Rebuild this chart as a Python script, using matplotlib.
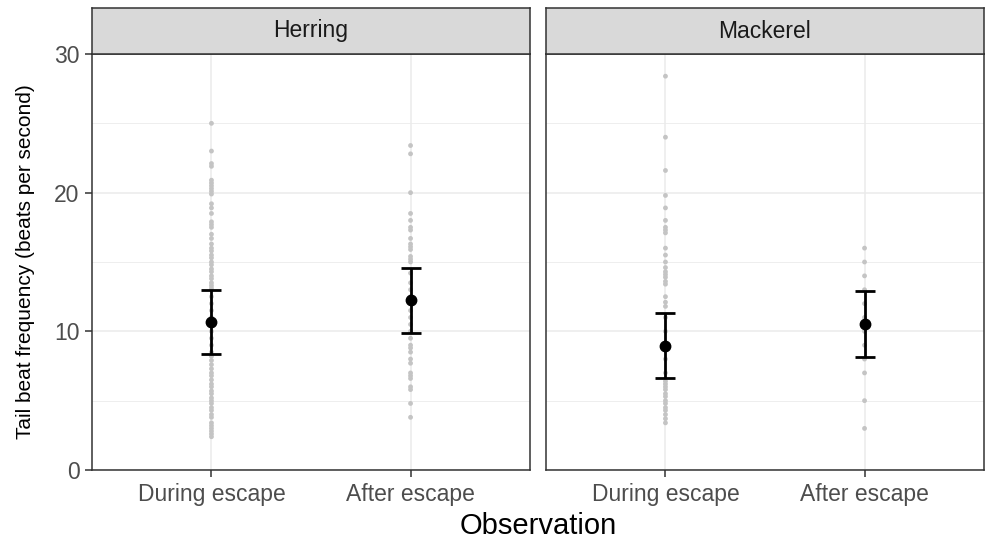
import matplotlib.pyplot as plt

plt.rcParams['font.family'] = ['Liberation Sans', 'DejaVu Sans']

# Categories
species = ["Herring", "Mackerel"]
observations = ["During escape", "After escape"]

# Individual tail beat frequencies
herring_during = [25.0, 23.0, 22.1, 21.9, 20.9, 20.7, 20.5, 20.3, 20.1, 19.9, 19.2, 18.9,
                  18.5, 17.9, 17.7, 17.5, 17.0, 16.7, 16.3, 16.0, 15.8, 15.5, 15.3, 15.0,
                  14.8, 14.5, 14.3, 14.0, 13.8, 13.5, 13.3, 13.1, 12.5, 12.0, 11.5, 11.0,
                  10.5, 10.0, 9.5, 9.0, 8.5, 8.2, 7.9, 7.6, 7.3, 7.0, 6.8, 6.5, 6.2, 6.0,
                  5.7, 5.5, 5.2, 5.0, 4.8, 4.5, 4.3, 4.0, 3.8, 3.4, 3.2, 3.0, 2.8, 2.6, 2.4]
herring_after = [23.4, 22.8, 20.0, 18.5, 18.0, 17.5, 17.3, 16.7, 16.3, 16.1, 15.9, 15.4,
                 15.2, 15.0, 14.2, 13.5, 13.0, 12.5, 12.0, 11.5, 11.0, 10.5, 10.0, 9.5,
                 9.0, 8.8, 8.5, 8.0, 7.7, 7.0, 6.8, 6.6, 6.0, 5.8, 4.8, 3.8]
mackerel_during = [28.4, 24.0, 21.6, 19.8, 18.9, 18.0, 17.5, 17.3, 17.1, 16.0, 15.5, 15.0,
                   14.6, 14.3, 14.1, 13.9, 13.6, 13.4, 12.5, 12.1, 11.8, 11.0, 10.0, 9.0,
                   8.0, 7.0, 6.4, 6.2, 6.0, 5.8, 5.5, 5.3, 5.0, 4.8, 4.5, 4.3, 4.0, 3.7, 3.4]
mackerel_after = [16, 15, 14, 13, 12, 11, 10, 9, 8, 7, 5, 3]

# Means and error bar bounds
means = {"Herring": [10.7, 12.25], "Mackerel": [8.97, 10.5]}
lower = {"Herring": [8.38, 9.9], "Mackerel": [6.62, 8.15]}
upper = {"Herring": [13.0, 14.6], "Mackerel": [11.35, 12.9]}

raw = {"Herring": [herring_during, herring_after],
       "Mackerel": [mackerel_during, mackerel_after]}

W, H = 987, 542
fig = plt.figure(figsize=(W / 100, H / 100), dpi=100)

panel_x = [92, 546]
panel_w = 438
top, bottom = 54, 470
strip_top = 8

for i, sp in enumerate(species):
    ax = fig.add_axes([panel_x[i] / W, 1 - bottom / H, panel_w / W, (bottom - top) / H])
    ax.set_xlim(0.4, 2.6)
    ax.set_ylim(0, 30)

    ax.set_yticks([0, 10, 20, 30])
    ax.set_yticks([5, 15, 25], minor=True)
    ax.set_xticks([1, 2])
    ax.set_xticklabels(observations)
    ax.grid(True, which="major", color="#EBEBEB", lw=1.1)
    ax.grid(True, which="minor", axis="y", color="#EBEBEB", lw=0.6)
    ax.set_axisbelow(True)

    for j in range(2):
        ax.scatter([j + 1] * len(raw[sp][j]), raw[sp][j], s=12, color="#C4C4C4",
                   edgecolors="none", zorder=2)
        m = means[sp][j]
        ax.errorbar([j + 1], [m], yerr=[[m - lower[sp][j]], [upper[sp][j] - m]],
                    fmt="o", color="black", ms=7.5, elinewidth=2, capsize=7.5,
                    capthick=2, zorder=3)

    for s in ax.spines.values():
        s.set_color("#333333")
        s.set_linewidth(1.1)
    ax.tick_params(which="major", color="#333333", length=5, width=1.1,
                   labelsize=16.5, labelcolor="#4D4D4D", pad=4)
    ax.tick_params(which="minor", length=0)
    if i == 1:
        ax.tick_params(axis="y", left=False, labelleft=False)
    else:
        ax.set_ylabel("Tail beat frequency (beats per second)", fontsize=15, labelpad=14)

    # facet strip
    st = fig.add_axes([panel_x[i] / W, 1 - top / H, panel_w / W, (top - strip_top) / H])
    st.set_facecolor("#D9D9D9")
    st.set_xticks([])
    st.set_yticks([])
    for s in st.spines.values():
        s.set_color("#333333")
        s.set_linewidth(1.1)
    st.text(0.5, 0.5, sp, ha="center", va="center", fontsize=16.5, color="#1A1A1A",
            transform=st.transAxes)

fig.text((panel_x[0] + panel_x[1] + panel_w) / 2 / W, 1 - 526 / H, "Observation",
         ha="center", va="center", fontsize=21)

fig.savefig("out.png", dpi=100)
